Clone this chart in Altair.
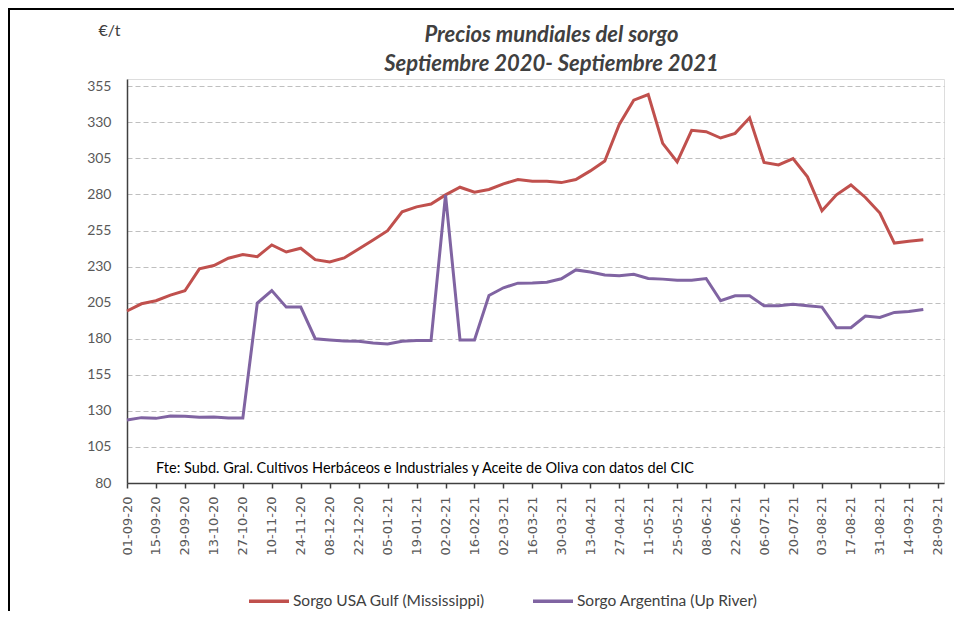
import altair as alt
import pandas as pd

# ---------------- data ----------------
dates = [
    "2020-09-01", "2020-09-08", "2020-09-15", "2020-09-22", "2020-09-29",
    "2020-10-06", "2020-10-13", "2020-10-20", "2020-10-27", "2020-11-03",
    "2020-11-10", "2020-11-17", "2020-11-24", "2020-12-01", "2020-12-08",
    "2020-12-15", "2020-12-22", "2020-12-29", "2021-01-05", "2021-01-12",
    "2021-01-19", "2021-01-26", "2021-02-02", "2021-02-09", "2021-02-16",
    "2021-02-23", "2021-03-02", "2021-03-09", "2021-03-16", "2021-03-23",
    "2021-03-30", "2021-04-06", "2021-04-13", "2021-04-20", "2021-04-27",
    "2021-05-04", "2021-05-11", "2021-05-18", "2021-05-25", "2021-06-01",
    "2021-06-08", "2021-06-15", "2021-06-22", "2021-06-29", "2021-07-06",
    "2021-07-13", "2021-07-20", "2021-07-27", "2021-08-03", "2021-08-10",
    "2021-08-17", "2021-08-24", "2021-08-31", "2021-09-07", "2021-09-14",
    "2021-09-21",
]

usa_gulf = [
    199.2, 204.2, 206.3, 210.2, 213.2, 228.4, 230.7, 235.8, 238.3, 236.9,
    245.0, 240.1, 242.7, 234.8, 233.2, 236.0, 242.2, 248.4, 254.9, 268.0,
    271.4, 273.3, 279.7, 285.0, 281.6, 283.4, 287.3, 290.3, 289.2, 289.2,
    288.2, 290.3, 296.3, 303.2, 328.5, 345.3, 349.2, 315.4, 302.5, 324.4,
    323.5, 319.1, 322.3, 333.1, 302.1, 300.4, 304.8, 292.2, 268.7, 279.7,
    286.6, 277.9, 267.1, 246.3, 247.5, 248.6,
]

argentina = [
    123.6, 125.3, 124.8, 126.4, 126.2, 125.5, 125.7, 125.0, 125.0, 204.7,
    213.4, 201.9, 201.9, 180.0, 179.1, 178.4, 178.2, 177.1, 176.4, 178.2,
    178.7, 178.7, 279.7, 179.1, 179.1, 210.0, 215.3, 218.5, 218.7, 219.2,
    221.5, 227.7, 226.3, 224.2, 223.6, 224.7, 221.7, 221.3, 220.6, 220.6,
    221.7, 206.3, 209.7, 209.7, 202.8, 202.8, 203.8, 202.8, 201.9, 187.6,
    187.6, 195.7, 194.7, 198.2, 198.9, 200.3,
]

tick_dates = [
    "2020-09-01", "2020-09-15", "2020-09-29", "2020-10-13", "2020-10-27",
    "2020-11-10", "2020-11-24", "2020-12-08", "2020-12-22", "2021-01-05",
    "2021-01-19", "2021-02-02", "2021-02-16", "2021-03-02", "2021-03-16",
    "2021-03-30", "2021-04-13", "2021-04-27", "2021-05-11", "2021-05-25",
    "2021-06-08", "2021-06-22", "2021-07-06", "2021-07-20", "2021-08-03",
    "2021-08-17", "2021-08-31", "2021-09-14", "2021-09-28",
]
x_domain = ["2020-09-01", "2021-10-01"]

y_ticks = [80, 105, 130, 155, 180, 205, 230, 255, 280, 305, 330, 355]
y_domain = [80, 360]

series_names = ["Sorgo USA Gulf (Mississippi)", "Sorgo Argentina (Up River)"]
series_colors = ["#C0504D", "#8064A2"]

title_lines = ["Precios mundiales del sorgo", "Septiembre 2020- Septiembre 2021"]
y_unit = "€/t"
source_note = "Fte: Subd. Gral. Cultivos Herbáceos e Industriales y Aceite de Oliva con datos del CIC"
note_pos = {"fecha": "2020-09-15", "precio": 90}

# ---------------- tables ----------------
def dt(s):
    y, m, d = (int(v) for v in s.split("-"))
    return alt.DateTime(year=y, month=m, date=d, utc=True)

df_usa = pd.DataFrame({"fecha": dates, "precio": usa_gulf, "serie": series_names[0]})
df_arg = pd.DataFrame({"fecha": dates, "precio": argentina, "serie": series_names[1]})
df_note = pd.DataFrame([{**note_pos, "texto": source_note}])
df_one = pd.DataFrame({"k": [0]})

FONT = "Lato"

x_enc = alt.X(
    "fecha:T",
    scale=alt.Scale(type="utc", domain=[dt(x_domain[0]), dt(x_domain[1])]),
    axis=alt.Axis(
        values=[dt(s) for s in tick_dates],
        tickCount=len(tick_dates),
        labelExpr="utcFormat(datum.value, '%d-%m-%y')",
        labelAngle=270,
        labelAlign="right",
        labelBaseline="middle",
        labelFont="DejaVu Sans",
        labelFontSize=13,
        labelColor="#595959",
        labelPadding=8,
        labelOverlap=False,
        labelBound=False,
        labelFlush=False,
        ticks=True,
        tickSize=5,
        tickColor="#404040",
        tickWidth=1.5,
        domainColor="#404040",
        domainWidth=1.5,
        grid=False,
        title=None,
    ),
)

y_enc = alt.Y(
    "precio:Q",
    scale=alt.Scale(domain=y_domain, nice=False, zero=False),
    axis=alt.Axis(
        values=y_ticks,
        tickCount=len(y_ticks),
        labelOverlap=False,
        ticks=False,
        labelPadding=16,
        labelFont=FONT,
        labelFontSize=14,
        labelColor="#595959",
        domainColor="#404040",
        domainWidth=1.5,
        grid=True,
        gridColor="#BFBFBF",
        gridDash=[5, 3],
        gridWidth=1,
        title=y_unit,
        titleAngle=0,
        titleAlign="center",
        titleBaseline="middle",
        titleX=-18,
        titleY=-49,
        titleFont=FONT,
        titleFontSize=16,
        titleFontWeight="normal",
        titleColor="#404040",
    ),
)

color_enc = alt.Color(
    "serie:N",
    scale=alt.Scale(domain=series_names, range=series_colors),
    legend=alt.Legend(
        title=None,
        orient="none",
        direction="horizontal",
        legendX=120,
        legendY=500,
        symbolType="stroke",
        symbolSize=1600,
        symbolStrokeWidth=3.5,
        labelFont=FONT,
        labelFontSize=15.5,
        labelColor="#404040",
        labelLimit=400,
        labelOffset=2,
        columnPadding=41,
    ),
)

line_usa = alt.Chart(df_usa).mark_line(strokeWidth=3).encode(x=x_enc, y=y_enc, color=color_enc)
line_arg = alt.Chart(df_arg).mark_line(strokeWidth=3).encode(x="fecha:T", y="precio:Q", color="serie:N")

note = alt.Chart(df_note).mark_text(
    align="left", baseline="middle", font=FONT, fontSize=14.5, color="#000000"
).encode(x="fecha:T", y="precio:Q", text="texto:N")

# decorative frame of the surrounding table (left and top borders)
frame_left = alt.Chart(df_one).mark_rect(color="#000000").encode(
    x=alt.value(-119), x2=alt.value(-117), y=alt.value(-71), y2=alt.value(545)
)
frame_top = alt.Chart(df_one).mark_rect(color="#000000").encode(
    x=alt.value(-119), x2=alt.value(840), y=alt.value(-71), y2=alt.value(-69)
)

chart = (
    alt.layer(line_usa, line_arg, note, frame_left, frame_top)
    .properties(
        width=817,
        height=404,
        autosize=alt.AutoSizeParams(type="none"),
        padding={"left": 119, "top": 71, "right": 10, "bottom": 128},
        title=alt.Title(
            title_lines,
            anchor="middle",
            frame="group",
            dx=16,
            offset=-68,
            font=FONT,
            fontSize=22,
            fontStyle="italic",
            fontWeight="bold",
            color="#404040",
            lineHeight=29,
        ),
    )
    .configure_view(fill="#F2F2F2", stroke="#D9D9D9", strokeWidth=1.5)
    .configure(background="#FFFFFF")
)

chart.save("out.html", embed_options={"renderer": "svg", "actions": False})
